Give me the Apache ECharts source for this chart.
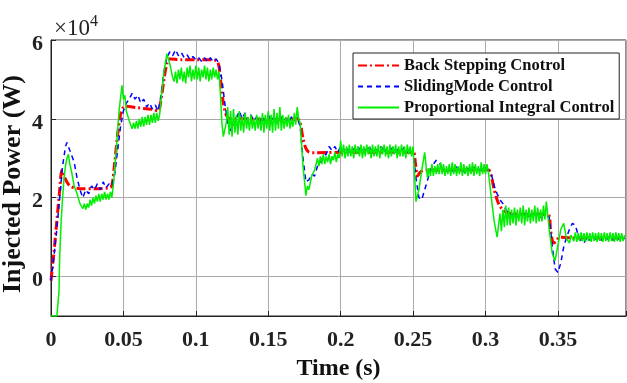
<!DOCTYPE html>
<html>
<head>
<meta charset="utf-8">
<script src="https://cdn.jsdelivr.net/npm/echarts@6/dist/echarts.min.js"></script>
<style>html,body{margin:0;padding:0;background:#fff}#c{width:627px;height:383px}</style>
</head>
<body>
<div id="c"></div>
<script>
// Values in units of 1e4 W
var seriesNames = ['Back Stepping Cnotrol', 'SlidingMode Control', 'Proportional Integral Control'];
var xTicks = [0, 0.05, 0.1, 0.15, 0.2, 0.25, 0.3, 0.35];
var yTicks = [0, 2, 4, 6];

var timeBS = [0,0.002,0.004,0.006,0.0075,0.009,0.011,0.013,0.016,0.020,0.030,0.040,0.042,0.044,0.046,0.048,0.050,0.052,0.060,0.070,0.074,0.076,0.078,0.080,0.082,0.090,0.100,0.110,0.115,0.117,0.119,0.121,0.124,0.130,0.150,0.170,0.172,0.174,0.176,0.178,0.182,0.200,0.230,0.250,0.2515,0.253,0.255,0.258,0.280,0.302,0.304,0.306,0.308,0.310,0.313,0.317,0.330,0.343,0.345,0.347,0.349,0.351,0.360,0.396];
var powerBS = [-0.1,0.6,1.4,2.2,2.7,2.55,2.4,2.3,2.25,2.23,2.23,2.25,2.3,2.9,3.6,4.1,4.3,4.32,4.28,4.24,4.2,4.5,5.0,5.4,5.52,5.5,5.5,5.5,5.45,5.0,4.4,4.1,4.0,4.0,3.98,4.0,3.9,3.5,3.25,3.16,3.14,3.15,3.15,3.15,2.9,2.55,2.65,2.7,2.7,2.7,2.55,2.2,1.95,1.78,1.66,1.6,1.58,1.58,1.15,0.85,0.9,1.0,0.98,0.98];

var timeSM = [0,0.002,0.004,0.006,0.008,0.010,0.011,0.012,0.014,0.016,0.018,0.020,0.022,0.024,0.026,0.028,0.030,0.032,0.034,0.036,0.038,0.040,0.042,0.044,0.046,0.048,0.050,0.052,0.054,0.056,0.058,0.060,0.062,0.064,0.066,0.068,0.070,0.072,0.074,0.076,0.078,0.080,0.082,0.084,0.086,0.088,0.090,0.092,0.094,0.096,0.098,0.100,0.102,0.104,0.106,0.108,0.110,0.112,0.114,0.116,0.118,0.120,0.122,0.124,0.126,0.128,0.130,0.132,0.134,0.136,0.138,0.140,0.142,0.144,0.146,0.148,0.150,0.152,0.154,0.156,0.158,0.160,0.162,0.164,0.166,0.168,0.170,0.172,0.174,0.176,0.178,0.180,0.182,0.184,0.186,0.188,0.190,0.192,0.194,0.196,0.198,0.200,0.202,0.204,0.206,0.208,0.210,0.212,0.214,0.216,0.218,0.220,0.222,0.224,0.226,0.228,0.230,0.232,0.234,0.236,0.238,0.240,0.242,0.244,0.246,0.248,0.250,0.252,0.254,0.256,0.258,0.260,0.262,0.264,0.266,0.268,0.270,0.272,0.274,0.276,0.278,0.280,0.282,0.284,0.286,0.288,0.290,0.292,0.294,0.296,0.298,0.300,0.302,0.304,0.306,0.308,0.310,0.312,0.314,0.316,0.318,0.320,0.322,0.324,0.326,0.328,0.330,0.332,0.334,0.336,0.338,0.340,0.342,0.344,0.346,0.348,0.350,0.352,0.354,0.356,0.358,0.360,0.362,0.364,0.366,0.368,0.370,0.372,0.374,0.376,0.378,0.380,0.382,0.384,0.386,0.388,0.390,0.392,0.394,0.396];
var powerSM = [-0.1,0.5,1.2,2.0,2.8,3.3,3.4,3.3,3.1,2.9,2.5,2.2,2.0,2.2,2.1,2.3,2.2,2.35,2.2,2.4,2.25,2.35,2.3,2.6,3.2,3.8,4.2,4.4,4.5,4.65,4.5,4.6,4.4,4.5,4.3,4.4,4.25,4.35,4.2,4.6,5.2,5.55,5.7,5.6,5.75,5.6,5.68,5.55,5.62,5.5,5.58,5.5,5.55,5.45,5.55,5.45,5.55,5.45,5.52,5.4,5.0,4.4,3.9,3.7,3.8,4.0,4.2,4.0,4.15,3.95,4.1,3.95,4.05,3.9,4.05,3.95,4.1,3.95,4.05,3.9,4.1,3.95,4.0,3.9,4.05,3.95,4.05,3.8,3.0,2.4,2.45,2.6,2.55,2.8,2.9,3.05,3.1,3.3,3.2,3.3,3.15,3.3,3.18,3.28,3.15,3.25,3.2,3.3,3.15,3.25,3.18,3.28,3.15,3.22,3.2,3.3,3.15,3.25,3.18,3.28,3.15,3.25,3.2,3.28,3.15,3.25,3.2,2.5,2.0,1.95,2.2,2.45,2.7,2.85,2.95,2.9,2.75,2.65,2.7,2.75,2.65,2.78,2.68,2.72,2.62,2.75,2.7,2.78,2.65,2.72,2.68,2.75,2.7,2.6,2.3,2.1,1.95,1.85,1.7,1.6,1.55,1.62,1.5,1.6,1.55,1.62,1.52,1.6,1.55,1.62,1.5,1.58,1.55,1.5,0.8,0.2,0.1,0.35,0.75,1.0,1.2,1.35,1.3,1.05,0.9,0.85,1.0,0.92,1.02,0.95,1.05,0.92,1.0,0.95,1.05,0.92,1.0,0.95,1.03,0.96];

// PI samples as [time, power]
var samplesPI = [
[0,-1.0],[0.002,-1.0],[0.004,-1.0],[0.005,-0.95],[0.0055,-0.4],[0.006,0.5],[0.007,1.4],[0.008,2.0],[0.009,2.5],[0.010,2.8],[0.011,3.0],[0.012,3.1],[0.013,2.85],[0.014,2.7],[0.016,2.3],[0.018,2.1],[0.020,1.85],[0.022,1.72],
[0.023,1.85],[0.024,1.7],[0.025,1.85],[0.026,1.75],[0.027,1.95],[0.028,1.8],[0.029,2.0],[0.030,1.85],[0.031,2.05],[0.032,1.9],[0.033,2.1],[0.034,1.9],[0.035,2.1],[0.036,1.95],[0.037,2.15],[0.038,1.95],[0.039,2.1],[0.040,1.95],[0.041,2.15],[0.042,2.0],
[0.043,2.3],[0.045,3.2],[0.047,4.2],[0.049,4.85],[0.050,4.5],[0.051,4.6],[0.052,4.2],[0.054,3.95],[0.056,3.75],
[0.057,3.9],[0.058,3.75],[0.059,3.95],[0.060,3.75],[0.061,4.0],[0.062,3.8],[0.063,4.05],[0.064,3.8],[0.065,4.05],[0.066,3.85],[0.067,4.1],[0.068,3.85],[0.069,4.1],[0.070,3.9],[0.071,4.15],[0.072,3.9],[0.073,4.15],[0.074,3.95],[0.075,4.1],
[0.076,4.5],[0.078,5.2],[0.080,5.65],[0.082,5.4],[0.084,5.05],
[0.085,4.95],[0.086,5.2],[0.087,4.9],[0.088,5.25],[0.089,5.0],[0.090,5.3],[0.091,4.95],[0.092,5.2],[0.093,4.9],[0.094,5.3],[0.095,5.05],[0.096,5.35],[0.097,4.95],[0.098,5.25],[0.099,5.0],[0.100,5.35],[0.101,5.0],[0.102,5.3],[0.103,4.95],[0.104,5.25],[0.105,5.05],[0.106,5.35],[0.107,5.0],[0.108,5.3],[0.109,4.95],[0.110,5.25],[0.111,5.0],[0.112,5.3],[0.113,5.05],[0.114,5.25],[0.115,5.0],[0.116,5.2],
[0.117,4.6],[0.118,3.9],[0.119,3.55],[0.120,3.5],[0.121,3.9],
[0.122,4.3],[0.123,3.6],[0.124,4.2],[0.125,3.55],[0.126,4.25],[0.127,3.65],[0.128,4.1],[0.129,3.6],[0.130,4.2],[0.131,3.7],[0.132,4.05],[0.133,3.65],[0.134,4.15],[0.135,3.75],[0.136,4.05],[0.137,3.7],[0.138,4.1],[0.139,3.75],[0.140,4.0],[0.141,3.7],[0.142,4.1],[0.143,3.75],[0.144,4.05],[0.145,3.7],[0.146,4.15],[0.147,3.65],[0.148,4.1],[0.149,3.75],[0.150,4.2],[0.151,3.7],[0.152,4.1],[0.153,3.65],[0.154,4.25],[0.155,3.7],[0.156,4.15],[0.157,3.75],[0.158,4.3],[0.159,3.7],[0.160,4.1],[0.161,3.75],[0.162,4.05],[0.163,3.8],[0.164,4.1],[0.165,3.75],[0.166,4.0],[0.167,3.8],[0.168,4.15],[0.169,3.85],[0.170,4.3],[0.171,4.0],[0.172,3.9],
[0.174,2.8],[0.176,2.05],[0.177,2.3],[0.178,2.2],[0.180,2.55],[0.182,2.7],[0.184,3.0],
[0.185,2.8],[0.186,3.05],[0.187,2.85],[0.188,3.1],[0.189,2.85],[0.190,3.05],[0.191,2.9],[0.192,3.1],[0.193,2.85],[0.194,3.05],[0.195,2.95],[0.196,3.15],[0.197,2.9],[0.198,3.1],[0.199,3.0],
[0.200,3.45],[0.201,3.05],[0.202,3.35],[0.203,3.0],[0.204,3.3],[0.205,3.05],[0.206,3.35],[0.207,3.05],[0.208,3.3],[0.209,3.0],[0.210,3.35],[0.211,3.1],[0.212,3.3],[0.213,3.05],[0.214,3.35],[0.215,3.0],[0.216,3.3],[0.217,3.05],[0.218,3.35],[0.219,3.1],[0.220,3.3],[0.221,3.0],[0.222,3.35],[0.223,3.05],[0.224,3.3],[0.225,3.05],[0.226,3.35],[0.227,3.0],[0.228,3.3],[0.229,3.1],[0.230,3.35],[0.231,3.05],[0.232,3.3],[0.233,3.0],[0.234,3.35],[0.235,3.05],[0.236,3.3],[0.237,3.1],[0.238,3.35],[0.239,3.0],[0.240,3.3],[0.241,3.05],[0.242,3.35],[0.243,3.05],[0.244,3.3],[0.245,3.0],[0.246,3.35],[0.247,3.1],[0.248,3.3],[0.249,3.05],[0.250,3.3],
[0.251,2.6],[0.252,1.9],[0.254,2.2],[0.256,2.7],[0.258,3.15],[0.259,2.8],[0.260,2.5],
[0.261,2.75],[0.262,2.55],[0.263,2.85],[0.264,2.55],[0.265,2.8],[0.266,2.6],[0.267,2.85],[0.268,2.6],[0.269,2.9],[0.270,2.6],[0.271,2.85],[0.272,2.55],[0.273,2.8],[0.274,2.6],[0.275,2.85],[0.276,2.55],[0.277,2.9],[0.278,2.6],[0.279,2.85],[0.280,2.55],[0.281,2.8],[0.282,2.6],[0.283,2.9],[0.284,2.55],[0.285,2.85],[0.286,2.6],[0.287,2.8],[0.288,2.55],[0.289,2.85],[0.290,2.6],[0.291,2.9],[0.292,2.55],[0.293,2.85],[0.294,2.6],[0.295,2.8],[0.296,2.55],[0.297,2.9],[0.298,2.6],[0.299,2.85],[0.300,2.6],[0.301,2.85],[0.302,2.65],
[0.304,2.0],[0.306,1.4],[0.308,1.0],[0.309,1.3],
[0.310,1.6],[0.311,1.15],[0.312,1.7],[0.313,1.25],[0.314,1.8],[0.315,1.3],[0.316,1.75],[0.317,1.3],[0.318,1.7],[0.319,1.35],[0.320,1.75],[0.321,1.3],[0.322,1.7],[0.323,1.4],[0.324,1.75],[0.325,1.35],[0.326,1.8],[0.327,1.3],[0.328,1.7],[0.329,1.4],[0.330,1.75],[0.331,1.35],[0.332,1.7],[0.333,1.4],[0.334,1.8],[0.335,1.35],[0.336,1.75],[0.337,1.4],[0.338,1.7],[0.339,1.4],[0.340,1.8],[0.341,1.45],[0.342,1.9],
[0.344,1.2],[0.346,0.6],[0.348,0.4],[0.350,0.8],[0.352,1.2],[0.354,1.35],[0.356,0.95],[0.358,0.85],[0.359,1.05],
[0.360,1.1],[0.361,0.9],[0.362,1.12],[0.363,0.88],[0.364,1.1],[0.365,0.9],[0.366,1.12],[0.367,0.9],[0.368,1.1],[0.369,0.88],[0.370,1.12],[0.371,0.9],[0.372,1.1],[0.373,0.88],[0.374,1.12],[0.375,0.9],[0.376,1.1],[0.377,0.88],[0.378,1.12],[0.379,0.9],[0.380,1.1],[0.381,0.88],[0.382,1.12],[0.383,0.9],[0.384,1.1],[0.385,0.88],[0.386,1.12],[0.387,0.9],[0.388,1.1],[0.389,0.88],[0.390,1.12],[0.391,0.9],[0.392,1.1],[0.393,0.88],[0.394,1.1],[0.395,0.9],[0.396,1.05]
];

function pairs(t, v) { return t.map(function (x, i) { return [x, v[i]]; }); }

var FONT = "'Liberation Serif', 'Times New Roman', serif";
var chart = echarts.init(document.getElementById('c'), null, { renderer: 'canvas' });
chart.setOption({
  animation: false,
  backgroundColor: '#fff',
  grid: { left: 51, top: 40, right: 1, bottom: 67, show: true, borderColor: '#222', borderWidth: 1, containLabel: false, outerBoundsMode: 'none' },
  legend: {
    orient: 'vertical', left: 353, top: 53,
    data: seriesNames,
    itemWidth: 41, itemHeight: 14, itemGap: 4,
    padding: [4, 5, 3, 4],
    backgroundColor: '#fff', borderColor: '#222', borderWidth: 1,
    itemStyle: { opacity: 0 },
    textStyle: { fontFamily: FONT, fontWeight: 'bold', fontSize: 16.5, color: '#111' }
  },
  xAxis: {
    type: 'value', min: 0, max: 0.397, interval: 0.05,
    name: 'Time (s)', nameLocation: 'middle', nameGap: 41,
    nameTextStyle: { fontFamily: FONT, fontWeight: 'bold', fontSize: 24, color: '#111' },
    axisLine: { show: true, onZero: false, lineStyle: { color: '#222' } },
    axisTick: { show: true, inside: true, length: 5, lineStyle: { color: '#222' } },
    axisLabel: {
      fontFamily: FONT, fontWeight: 'bold', fontSize: 22, color: '#222', margin: 13,
      formatter: function (v) {
        for (var i = 0; i < xTicks.length; i++) if (Math.abs(v - xTicks[i]) < 1e-6) return String(xTicks[i]);
        return '';
      }
    },
    splitLine: { show: true, lineStyle: { color: '#aaa', width: 1 } }
  },
  yAxis: {
    type: 'value', min: -1, max: 6,
    axisLine: { show: true, lineStyle: { color: '#222' } },
    axisTick: { show: true, inside: true, length: 5, customValues: yTicks, lineStyle: { color: '#222' } },
    axisLabel: {
      customValues: yTicks, margin: 8,
      formatter: function (v) { return '{t|' + v + '}'; },
      rich: { t: { fontFamily: FONT, fontWeight: 'bold', fontSize: 22, color: '#222', padding: [8, 0, 0, 0] } }
    },
    splitLine: { show: true, lineStyle: { color: '#aaa', width: 1 } }
  },
  graphic: [{
    type: 'text', left: 54, top: 14,
    style: {
      text: '{a|×10}{b|4}',
      rich: {
        a: { fontFamily: FONT, fontSize: 23, fill: '#222', verticalAlign: 'bottom', lineHeight: 26 },
        b: { fontFamily: FONT, fontSize: 16, fill: '#222', verticalAlign: 'top', lineHeight: 26, padding: [0, 0, 12, 0] }
      }
    }
  }, {
    type: 'text', x: 13, y: 184, rotation: Math.PI / 2,
    style: {
      text: 'Injected Power (W)', align: 'center', verticalAlign: 'middle',
      font: 'bold 26px ' + FONT, fill: '#111'
    }
  }],
  series: [
    { name: seriesNames[0], type: 'line', data: pairs(timeBS, powerBS), showSymbol: false, symbol: 'none', smooth: 0.3,
      lineStyle: { color: '#ff0000', width: 3, type: [9, 3, 2, 3] }, itemStyle: { color: '#ff0000' }, z: 2 },
    { name: seriesNames[1], type: 'line', data: pairs(timeSM, powerSM), showSymbol: false, symbol: 'none',
      lineStyle: { color: '#0000ff', width: 1.5, type: [5, 4] }, itemStyle: { color: '#0000ff' }, z: 3 },
    { name: seriesNames[2], type: 'line', data: samplesPI, showSymbol: false, symbol: 'none',
      lineStyle: { color: '#00ee00', width: 1.5 }, itemStyle: { color: '#00ee00' }, z: 4 }
  ]
});
</script>
</body>
</html>
